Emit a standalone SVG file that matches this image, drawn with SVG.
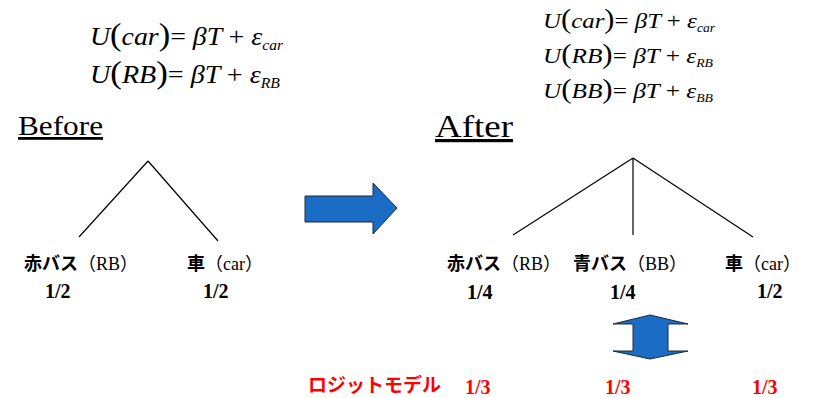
<svg xmlns="http://www.w3.org/2000/svg" width="814" height="398" viewBox="0 0 814 398">
<style>
.up{font-style:normal}
.lbl{font-size:18px;fill:#000}
.jp{font-family:"Noto Sans CJK JP",sans-serif;font-weight:bold}
.red{fill:#ff0000}
.ln{stroke:#000;stroke-width:1.2;fill:none}
.arr{fill:#1a6cc4;stroke:#1a2a3a;stroke-width:1}
</style>
<rect width="814" height="398" fill="#fff"/>

<g id="eq-before" font-size="25">
<text style="font-family:'Liberation Serif',serif;font-style:italic" x="90" y="45" textLength="193" lengthAdjust="spacingAndGlyphs">U<tspan class="up" font-size="31">(</tspan>car<tspan class="up" font-size="31">)</tspan><tspan class="up">= </tspan>βT <tspan class="up">+ </tspan>ε<tspan font-size="14" dy="5">car</tspan></text>
<text style="font-family:'Liberation Serif',serif;font-style:italic" x="90" y="83" textLength="190" lengthAdjust="spacingAndGlyphs">U<tspan class="up" font-size="31">(</tspan>RB<tspan class="up" font-size="31">)</tspan><tspan class="up">= </tspan>βT <tspan class="up">+ </tspan>ε<tspan font-size="14" dy="5">RB</tspan></text>
</g>

<g id="eq-after" font-size="22">
<text style="font-family:'Liberation Serif',serif;font-style:italic" x="543" y="28" textLength="172" lengthAdjust="spacingAndGlyphs">U<tspan class="up" font-size="27">(</tspan>car<tspan class="up" font-size="27">)</tspan><tspan class="up">= </tspan>βT <tspan class="up">+ </tspan>ε<tspan font-size="12" dy="4">car</tspan></text>
<text style="font-family:'Liberation Serif',serif;font-style:italic" x="543" y="63" textLength="170" lengthAdjust="spacingAndGlyphs">U<tspan class="up" font-size="27">(</tspan>RB<tspan class="up" font-size="27">)</tspan><tspan class="up">= </tspan>βT <tspan class="up">+ </tspan>ε<tspan font-size="12" dy="4">RB</tspan></text>
<text style="font-family:'Liberation Serif',serif;font-style:italic" x="543" y="98" textLength="170" lengthAdjust="spacingAndGlyphs">U<tspan class="up" font-size="27">(</tspan>BB<tspan class="up" font-size="27">)</tspan><tspan class="up">= </tspan>βT <tspan class="up">+ </tspan>ε<tspan font-size="12" dy="4">BB</tspan></text>
</g>

<g id="before-title"><text style="font-family:'Liberation Serif',serif;text-decoration:underline" x="18" y="135" font-size="28" textLength="85" lengthAdjust="spacingAndGlyphs">Before</text></g>
<g id="after-title"><text style="font-family:'Liberation Serif',serif;text-decoration:underline" x="435" y="137" font-size="32" textLength="78" lengthAdjust="spacingAndGlyphs">After</text></g>

<g id="connectors">
<path class="ln" d="M148 161 L79 237 M148 161 L218 241"/>
<path class="ln" d="M633 158 L513 235 M633 158 L633 235 M633 158 L753 237"/>
</g>

<g id="b-rb"><text class="lbl" style="font-family:'Liberation Serif','Noto Sans CJK JP',serif" x="24" y="270"><tspan class="jp">赤バス</tspan>（RB）</text><text style="font-family:'Liberation Serif',serif;font-weight:bold" font-size="20" x="45" y="298">1/2</text></g>
<g id="b-car"><text class="lbl" style="font-family:'Liberation Serif','Noto Sans CJK JP',serif" x="187" y="270"><tspan class="jp">車</tspan>（car）</text><text style="font-family:'Liberation Serif',serif;font-weight:bold" font-size="20" x="203" y="298">1/2</text></g>

<g id="a-rb"><text class="lbl" style="font-family:'Liberation Serif','Noto Sans CJK JP',serif" x="447" y="270"><tspan class="jp">赤バス</tspan>（RB）</text><text style="font-family:'Liberation Serif',serif;font-weight:bold" font-size="20" x="467" y="299">1/4</text></g>
<g id="a-bb"><text class="lbl" style="font-family:'Liberation Serif','Noto Sans CJK JP',serif" x="573" y="270"><tspan class="jp">青バス</tspan>（BB）</text><text style="font-family:'Liberation Serif',serif;font-weight:bold" font-size="20" x="610" y="299">1/4</text></g>
<g id="a-car"><text class="lbl" style="font-family:'Liberation Serif','Noto Sans CJK JP',serif" x="725" y="270"><tspan class="jp">車</tspan>（car）</text><text style="font-family:'Liberation Serif',serif;font-weight:bold" font-size="20" x="757" y="298">1/2</text></g>

<g id="arrow-right"><polygon class="arr" points="305,196 373,196 373,183 397,208 373,234 373,222 305,222"/></g>
<g id="arrow-updown"><polygon class="arr" points="650,315 688,324 668,324 668,351 688,351 650,359 613,351 633,351 633,324 613,324"/></g>

<g id="logit">
<text class="red" style="font-family:'Noto Sans CJK JP',sans-serif;font-weight:bold" x="308" y="392" font-size="19">ロジットモデル</text>
<text class="red" style="font-family:'Liberation Serif',serif;font-weight:bold" font-size="20" x="465" y="394">1/3</text>
<text class="red" style="font-family:'Liberation Serif',serif;font-weight:bold" font-size="20" x="605" y="394">1/3</text>
<text class="red" style="font-family:'Liberation Serif',serif;font-weight:bold" font-size="20" x="752" y="394">1/3</text>
</g>
</svg>
